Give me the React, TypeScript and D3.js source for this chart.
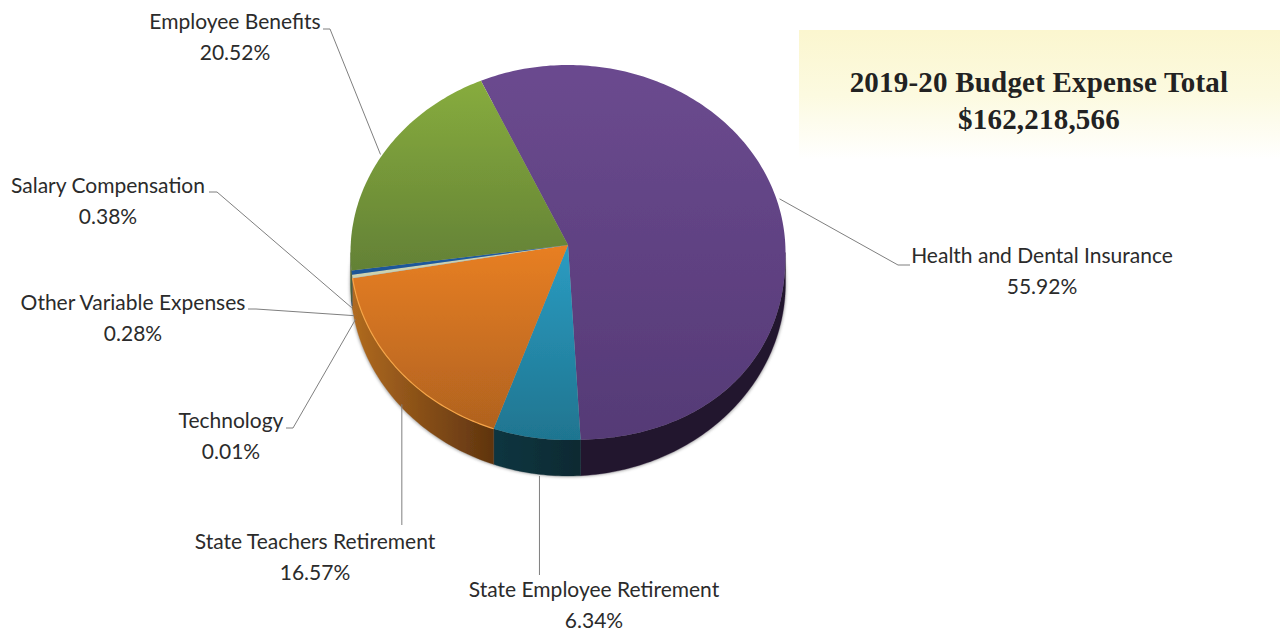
import React from "react";
import * as d3 from "d3";

const categories = [
  "Health and Dental Insurance",
  "State Employee Retirement",
  "State Teachers Retirement",
  "Technology",
  "Other Variable Expenses",
  "Salary Compensation",
  "Employee Benefits",
];
const shares = [55.92, 6.34, 16.57, 0.01, 0.28, 0.38, 20.52];
const titleLines = ["2019-20 Budget Expense Total", "$162,218,566"];

const topColors = [
  ["#6b4a8f", "#553a76"],
  ["#2b9cc2", "#1f7590"],
  ["#e87f22", "#b0621f"],
  ["#a8c4d4", "#a8c4d4"],
  ["#cbd2b0", "#cbd2b0"],
  ["#1f5ea6", "#1d5595"],
  ["#87ac3d", "#638136"],
];
const sideColors = [
  ["#22132f", "#22132f"],
  ["#0f3540", "#0d2a32"],
  ["#b06a20", "#5f340f"],
  ["#8a6a40", "#8a6a40"],
  ["#8a6a40", "#8a6a40"],
  ["#12365f", "#12365f"],
  ["#4c6328", "#4c6328"],
];

const labelLayout = [
  { x: 1042, y: 263, anchorDx: 0, anchorDy: -10, elbow: [898, 265], end: [910, 265] },
  { x: 594, y: 597, anchorDx: 3, anchorDy: 2, elbow: null, end: [null, 575] },
  { x: 315, y: 549, anchorDx: 3, anchorDy: 0, elbow: null, end: [null, 525] },
  { x: 231, y: 428, anchorDx: 3, anchorDy: 10, elbow: [293, 428], end: [286, 428] },
  { x: 133, y: 310, anchorDx: 2, anchorDy: 8, elbow: [256, 309], end: [248, 309] },
  { x: 108, y: 193, anchorDx: 0, anchorDy: 4, elbow: [217, 192], end: [209, 192] },
  { x: 235, y: 29, anchorDx: 0, anchorDy: -3, elbow: [330, 29], end: [323, 29] },
];

const cx = 568, cy = 252.5, rx = 217.5, ry = 187.5, apexY = 245;
const wallCy = 283, wallRy = 193;
const rad = Math.PI / 180;
const startDeg = -23.6;

// foreshortening of the tilted pie: slice angle -> drawn angle (degrees from the start edge)
const warp = d3.scaleLinear().domain([0, 201, 224, 284, 360]).range([0, 200, 223.5, 286, 360]);

const slices = d3.pie<number>().sort(null).startAngle(0).endAngle(2 * Math.PI)(shares).map((s) => ({
  a0: startDeg + warp(s.startAngle / rad),
  a1: startDeg + warp(s.endAngle / rad),
  index: s.index,
}));

const px = (a: number) => cx + rx * Math.sin(a * rad);
// rim of the top face: the near right quadrant is slightly fuller than an ellipse
const py = (a: number) => {
  const s = Math.sin(a * rad);
  const c = -Math.cos(a * rad);
  if (c > 0 && s > 0) {
    const p = 2.2;
    return cy + ry * Math.pow(Math.max(0, 1 - Math.pow(s, p)), 1 / p);
  }
  return cy + ry * c;
};
const wallY = (a: number) => wallCy - wallRy * Math.cos(a * rad);

const line = d3.line<[number, number]>().x((d) => d[0]).y((d) => d[1]);
const samples = (a0: number, a1: number) => {
  const n = Math.max(2, Math.ceil(Math.abs(a1 - a0)) + 1);
  return d3.range(n).map((i) => a0 + ((a1 - a0) * i) / (n - 1));
};
const rimPts = (a0: number, a1: number) =>
  samples(a0, a1).map((a) => [px(a), py(a)] as [number, number]);
const wallPts = (a0: number, a1: number) =>
  samples(a0, a1).map((a) => [px(a), wallY(a)] as [number, number]);

const topPath = (a0: number, a1: number) =>
  line([[cx, apexY], ...rimPts(a0, a1)])! + "Z";

const sideSegs = slices.flatMap((s) => {
  // the wall shows on the lower half of the rim, 90..270 degrees clockwise from the top
  const out: { i: number; a0: number; a1: number }[] = [];
  for (const shift of [0, 360, -360]) {
    const lo = Math.max(s.a0 + shift, 90);
    const hi = Math.min(s.a1 + shift, 270);
    if (hi > lo) out.push({ i: s.index, a0: lo, a1: hi });
  }
  return out;
});
const sidePath = (a0: number, a1: number) =>
  line([...rimPts(a0, a1), ...wallPts(a1, a0)])! + "Z";

export default function App() {
  const serif = "'Liberation Serif', serif";
  const sans = "Lato, sans-serif";
  return (
    <svg
      width={1280}
      height={633}
      style={{ position: "absolute", left: 0, top: 0, background: "#fff" }}
    >
      <defs>
        <linearGradient id="box" x1="0" y1="0" x2="0" y2="1">
          <stop offset="0" stopColor="#fbf6cf" />
          <stop offset="0.5" stopColor="#fcfae0" />
          <stop offset="1" stopColor="#ffffff" />
        </linearGradient>
        {slices.map((s) => (
          <linearGradient key={s.index} id={`top${s.index}`} x1="0" x2="0" y1="0" y2="1">
            {topColors[s.index].map((c, i) => (
              <stop key={i} offset={i} stopColor={c} />
            ))}
          </linearGradient>
        ))}
        {sideSegs.map((s, k) => (
          <linearGradient key={k} id={`side${k}`} x1="0" x2="1" y1="0" y2="0">
            {sideColors[s.i].map((c, i) => (
              <stop key={i} offset={i} stopColor={c} />
            ))}
          </linearGradient>
        ))}
        <filter id="soft" x="-5%" y="-5%" width="110%" height="110%">
          <feGaussianBlur stdDeviation="0.5" />
        </filter>
        <filter id="glow" x="-10%" y="-10%" width="120%" height="120%">
          <feGaussianBlur stdDeviation="1.5" />
        </filter>
      </defs>

      <rect x={799} y={30} width={481} height={130} fill="url(#box)" />
      <g
        fontFamily={serif}
        fontWeight={700}
        fontSize={29}
        letterSpacing={0.2}
        fill="#222"
        textAnchor="middle"
      >
        <text x={1039} y={92}>{titleLines[0]}</text>
        <text x={1039} y={129}>{titleLines[1]}</text>
      </g>

      <ellipse cx={cx} cy={wallCy + 1} rx={rx + 0.8} ry={wallRy} fill="#555" opacity={0.5} filter="url(#glow)" />

      <g filter="url(#soft)">
        {sideSegs.map((s, k) => (
          <path key={k} d={sidePath(s.a0, s.a1)} fill={`url(#side${k})`} stroke={`url(#side${k})`} strokeWidth={0.3} />
        ))}
        {slices.map((s) => (
          <path key={s.index} d={topPath(s.a0, s.a1)} fill={`url(#top${s.index})`} />
        ))}
        <path
          d={line(rimPts(slices[2].a0, slices[2].a1))!}
          fill="none"
          stroke="#f6a548"
          strokeWidth={1.2}
        />
      </g>

      {slices.map((s) => {
        const l = labelLayout[s.index];
        const mid = (s.a0 + s.a1) / 2;
        const m = ((mid % 360) + 360) % 360;
        const onWall = m > 90 && m < 270;
        const ax = px(mid) + l.anchorDx;
        const ay = (onWall ? wallY(mid) : py(mid)) + l.anchorDy;
        const pts: [number, number][] = l.elbow
          ? [[ax, ay], l.elbow as [number, number], l.end as [number, number]]
          : [[ax, ay], [ax, l.end[1] as number]];
        return (
          <path key={s.index} d={line(pts)!} fill="none" stroke="#7f7f7f" strokeWidth={1} />
        );
      })}

      <g fontFamily={sans} fontSize={21} fill="#2b2b2b" textAnchor="middle">
        {categories.map((c, i) => (
          <g key={c}>
            <text x={labelLayout[i].x} y={labelLayout[i].y}>{c}</text>
            <text x={labelLayout[i].x} y={labelLayout[i].y + 31}>
              {d3.format(".2f")(shares[i])}%
            </text>
          </g>
        ))}
      </g>
    </svg>
  );
}
